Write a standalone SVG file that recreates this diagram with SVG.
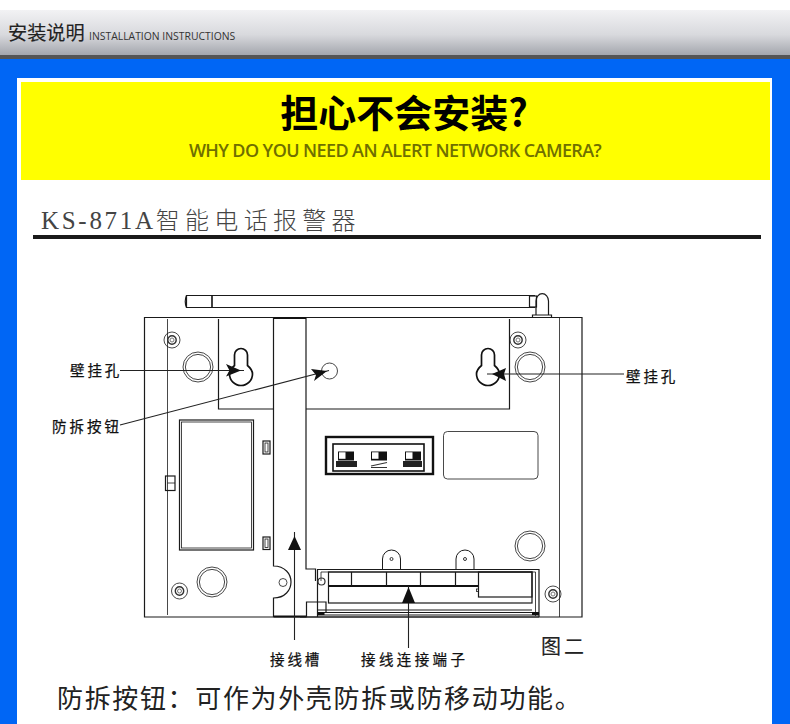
<svg xmlns="http://www.w3.org/2000/svg" width="790" height="724" viewBox="0 0 790 724">
<style>
.l{fill:none;stroke:#1a1a1a;stroke-width:1.2}
.m{fill:none;stroke:#1a1a1a;stroke-width:.8}
.t{fill:none;stroke:#111;stroke-width:2}
.c{stroke:#222;stroke-width:1.1;fill:none}
.h{fill:#111}
.cn{font-family:"Noto Sans CJK SC","Noto Sans",sans-serif}
.lb{font-size:14.500px;letter-spacing:2.900px;fill:#111;stroke:#111;stroke-width:.25}
</style>
<defs>
<linearGradient id="g" x1="0" y1="0" x2="0" y2="1"><stop offset="0" stop-color="#f2f2f4"/><stop offset=".55" stop-color="#d8d9dd"/><stop offset="1" stop-color="#a4a6ad"/></linearGradient>
<g id="screw"><circle r="8" class="m"/><circle r="4.2" fill="none" stroke="#333" stroke-width="1.4"/><circle r="2" fill="none" stroke="#777" stroke-width="1"/></g>
<g id="big"><circle r="15" fill="none" stroke="#333" stroke-width=".9"/><circle r="12.6" fill="none" stroke="#333" stroke-width=".9"/></g>
<path id="key" d="M-6.5 -8.5V-19A6.5 6.5 0 0 1 6.5 -19V-8.5C9.500 -6 11.500 -3 11.500 0A11.500 11.500 0 0 1 -11.500 0C-11.500 -3 -9.500 -6 -6.500 -8.500Z" fill="none" stroke="#111" stroke-width="1.700"/>
<g id="tab"><path d="M-9 11V0A9 9 0 0 1 9 0V11" fill="#fff" stroke="#1a1a1a" stroke-width="1"/><circle r="1.500" fill="none" stroke="#333" stroke-width="1"/></g>
<g id="dip"><rect width="16" height="9" fill="#111"/><rect x="1" y=".8" width="6.500" height="6.500" fill="#fff"/></g>
</defs>
<rect width="790" height="724" fill="#fff"/>
<g id="header">
<rect y="10" width="790" height="45" fill="url(#g)"/>
<rect y="55" width="790" height="4" fill="#555"/>
<rect y="59" width="790" height="665" fill="#0066f5"/>
<text x="8" y="40" class="cn" font-size="19.200" fill="#222" stroke="#222" stroke-width=".15">安装说明</text>
<text x="89" y="40" font-family="'Open Sans',sans-serif" font-size="10.400" fill="#333">INSTALLATION INSTRUCTIONS</text>
</g>
<g id="panel">
<rect x="17" y="78" width="755" height="646" fill="#fff"/>
<rect x="21" y="82" width="749" height="98" fill="#ffff00"/>
<text x="404" y="127" text-anchor="middle" class="cn" font-size="38" font-weight="700" fill="#000">担心不会安装?</text>
<text x="395" y="157" text-anchor="middle" font-family="'Open Sans',sans-serif" font-size="18" font-weight="600" letter-spacing="-.6" fill="#6f6f00">WHY DO YOU NEED AN ALERT NETWORK CAMERA?</text>
<text x="41" y="229" font-family="'Liberation Serif',serif" font-size="25" letter-spacing="2.700" fill="#444">KS-871A<tspan class="cn" font-size="24" font-weight="300" letter-spacing="5.300">智能电话报警器</tspan></text>
<rect x="33" y="235" width="728" height="4" fill="#1a1a1a"/>
</g>
<g id="device">
<g id="antenna">
<path class="l" d="M535 295.500H186.500Q184 301.500 186.500 307.500H535"/><path class="l" d="M186.500 295.500V307.500"/>
<path d="M212 295.500V307.500" stroke="#111" stroke-width="1.600"/>
<rect x="529.500" y="296" width="7" height="11" class="l"/>
<path class="l" d="M536 315V301A6 7 0 0 1 548.500 301V315" fill="#fff"/>
<path class="l" d="M532.500 318V315H551.500V318"/>
</g>
<g id="case">
<path class="l" d="M144.500 317.500H582V617H144.500Z"/>
<path class="m" d="M167.500 319V615M559.500 318V617"/>
<path class="l" d="M218.500 319V409H273.500M306 409H509.500V319"/>
<path class="l" d="M273.500 318V566C285 566 291 574 291 582C291 590 285 598 273.500 598V617"/>
<path class="l" d="M306 318V569H315.500V581"/>
<rect x="273.500" y="317" width="32.500" height="2" fill="#111"/>
<rect x="273.500" y="615.500" width="33" height="2" fill="#111"/>
<circle cx="283" cy="582.500" r="4" class="m"/>
<path class="l" d="M306.500 617V602H317"/>
</g>
<g id="screws">
<use href="#screw" x="172" y="340"/><use href="#screw" x="518" y="340"/><use href="#screw" x="179.500" y="591"/><use href="#screw" x="553" y="594"/>
<use href="#big" x="198" y="367"/><use href="#big" x="530" y="367"/><use href="#big" x="212" y="582"/><use href="#big" x="530" y="546"/>
</g>
<g id="keyhole-left"><use href="#key" x="241" y="374"/></g>
<g id="keyhole-right"><use href="#key" x="488" y="374"/></g>
<g id="tamper-button"><circle cx="329.500" cy="371" r="8" fill="none" stroke="#333" stroke-width=".9"/></g>
<g id="display">
<rect x="179.500" y="420" width="74" height="130" class="l"/><rect x="181.500" y="422" width="70" height="126" class="m"/>
<rect x="263" y="441" width="7" height="13" class="l"/><rect x="265" y="443" width="3" height="9" class="m"/>
<rect x="263" y="537" width="7" height="12.500" class="l"/><rect x="265" y="539" width="3" height="8.500" class="m"/>
<rect x="165.500" y="476" width="9.500" height="14.500" class="l"/><path class="m" d="M167.500 483H175"/>
</g>
<g id="label-plate"><rect x="443.500" y="431.500" width="94.500" height="47.500" rx="4" class="m"/></g>
<g id="dip-switch">
<rect x="326" y="437" width="107" height="37" fill="none" stroke="#111" stroke-width="2.400"/>
<rect x="333" y="444" width="91" height="27" fill="none" stroke="#111" stroke-width="1.600"/>
<use href="#dip" x="338" y="451.500"/><use href="#dip" x="371" y="451.500"/><use href="#dip" x="405" y="451.500"/>
<rect x="336" y="461" width="21" height="6" fill="#222"/><rect x="403" y="461" width="19" height="6" fill="#222"/>
<path d="M371 466L387 462.500" stroke="#333" stroke-width="1.200"/><path d="M371 467.500H387" stroke="#333" stroke-width="1"/>
</g>
<g id="terminal">
<use href="#tab" x="391.500" y="559"/><use href="#tab" x="465" y="559"/>
<path class="l" d="M317.500 617V569.500H539V617"/>
<path class="m" d="M321 581V572H535.500V616"/>
<rect x="328.500" y="572" width="203.500" height="31" class="l"/>
<path class="t" d="M328.500 586H478.500"/>
<path class="l" d="M351.500 572V586M386.500 572V586M420.500 572V586M455.500 572V586"/>
<rect x="478.500" y="572" width="53.500" height="25" class="l" fill="#fff"/>
<rect x="476.500" y="589" width="2" height="2.500" class="m"/>
<path class="l" d="M317.500 610H532M317.500 612.500H532M317.500 615H539M300 617H539"/>
<path class="l" d="M318 602H326V612"/>
<circle cx="321.500" cy="581.500" r="3.500" fill="none" stroke="#333" stroke-width="1.200"/>
<rect x="317.500" y="612" width="7" height="3" fill="#111"/><rect x="532" y="612" width="7" height="3" fill="#111"/>
</g>
</g>
<g id="connectors">
<path class="c" d="M120 370.500H244"/><path class="h" d="M241 370.500L226 364L229.500 370.500L226 376.500Z"/>
<path class="c" d="M487 374H624"/><path class="h" d="M492 374L506 368L504 374L506 381Z"/>
<path class="c" d="M120 425L329 370.500"/><path class="h" d="M327 371L311 369L316 375L314 381Z"/>
<path class="c" d="M294.500 532V640"/><path class="h" d="M294.500 536L288 550H301Z"/>
<path class="c" d="M408.500 586V648"/><path class="h" d="M408.500 587L402 603H415Z"/>
</g>
<g id="labels">
<text x="70" y="376" class="lb cn">壁挂孔</text>
<text x="52" y="432" class="lb cn" style="letter-spacing:3px">防拆按钮</text>
<text x="626" y="382" class="lb cn">壁挂孔</text>
<text x="270" y="665" class="lb cn">接线槽</text>
<text x="361" y="665" class="lb cn" style="letter-spacing:3.400px">接线连接端子</text>
<text x="541" y="654" class="cn" font-size="20" letter-spacing="3" fill="#222" stroke="#222" stroke-width=".15">图二</text>
<text x="57" y="708" class="cn" font-size="26" letter-spacing="1.650" fill="#222">防拆按钮&#xFF1A;可作为外壳防拆或防移动功能。</text>
</g>
</svg>
